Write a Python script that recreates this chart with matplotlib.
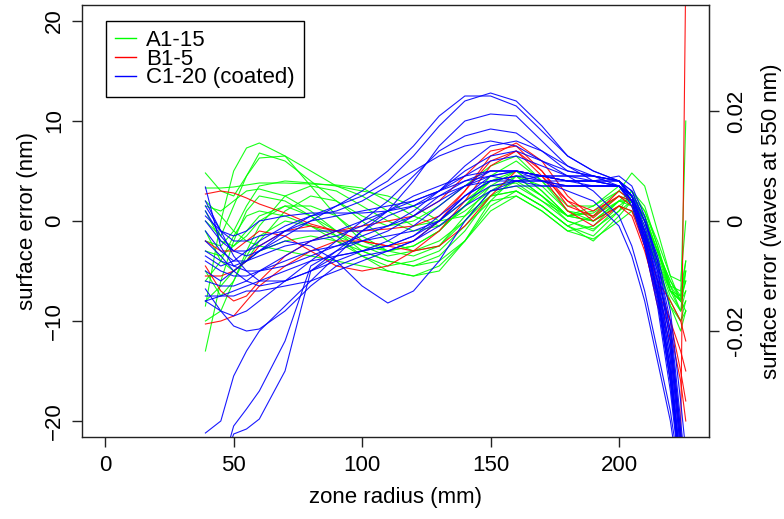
import matplotlib
matplotlib.use("Agg")
import matplotlib.pyplot as plt
from matplotlib.lines import Line2D
import numpy as np

plt.rcParams['font.family'] = ['Liberation Sans', 'DejaVu Sans']

# zone radius sample positions (mm)
zone_radius = [39, 45, 50, 55, 60, 70, 80, 90, 100, 110, 120, 130, 140, 150,
               160, 170, 180, 190, 200, 205, 210, 215, 220, 224, 226]

# A1-15 (green)
A1 = [-8.5, 0.0, 5.0, 7.3, 7.8, 6.5, 3.5, 0.5, -2.0, -3.0, -2.5, -1.0, 1.5, 3.5, 3.8, 2.0, 0.5, 0.8, 2.5, 1.5, -1.0, -4.0, -7.0, -8.0, -6.0]
A2 = [4.8, 3.0, 2.5, 4.5, 6.8, 6.0, 4.0, 2.0, 0.5, -0.5, 0.0, 1.5, 3.5, 5.5, 6.5, 4.0, 1.0, 0.5, 2.0, 2.0, 0.0, -3.0, -6.5, -8.0, -7.0]
A3 = [3.3, 3.3, 3.4, 3.6, 3.8, 3.8, 3.7, 3.6, 3.3, 2.0, 0.5, -0.5, 1.0, 3.0, 3.5, 2.0, 0.0, -0.8, 1.0, 3.0, 1.5, -2.5, -7.0, -9.0, -5.0]
A4 = [0.0, -1.5, 1.5, 4.5, 6.3, 6.5, 5.0, 3.5, 2.5, 1.0, -0.5, 0.0, 2.0, 4.0, 4.5, 2.5, 0.5, 1.0, 3.0, 4.8, 3.5, -1.0, -5.5, -8.0, -4.0]
A5 = [-2.0, -2.5, -1.0, 1.5, 3.5, 4.0, 3.8, 3.5, 3.0, 2.5, 1.5, 0.0, 0.5, 2.5, 3.0, 1.5, -0.5, -1.5, 1.0, 2.0, 0.5, -3.0, -7.0, -8.0, 10.0]
A6 = [-13.0, -6.0, -2.0, 1.0, 2.5, 2.0, 0.5, -1.0, -2.5, -3.5, -3.0, -2.0, 0.0, 2.5, 3.0, 1.5, -0.5, -2.0, 0.5, 2.0, 0.5, -3.0, -6.0, -7.5, -6.0]
A7 = [-6.0, -4.0, -1.5, 0.5, 1.0, 0.5, -0.5, -2.0, -3.5, -4.5, -4.0, -3.0, -0.5, 2.0, 2.5, 1.0, -1.0, -0.5, 2.0, 1.5, -1.0, -4.5, -8.0, -10.0, -8.0]
A8 = [1.0, -2.0, -2.5, -1.5, 0.0, 1.5, 1.5, 0.5, -1.5, -3.0, -3.5, -2.5, 0.5, 3.5, 5.0, 3.0, 0.5, 0.0, 2.0, 3.0, 1.0, -2.5, -6.5, -9.0, -8.0]
A9 = [-3.0, -3.5, -2.5, -1.0, 0.5, 1.5, 0.5, -1.5, -3.5, -5.0, -5.5, -4.5, -2.0, 1.5, 3.0, 1.5, -0.5, 0.5, 2.5, 2.0, 0.0, -3.5, -7.0, -7.5, -5.0]
A10 = [2.0, 0.5, -1.0, -2.0, -2.5, -3.0, -3.5, -4.0, -4.5, -5.0, -5.5, -5.0, -2.0, 2.0, 4.5, 3.5, 1.0, 0.0, 1.5, 1.0, -1.5, -4.5, -8.5, -10.0, -9.0]
A11 = [-8.0, -6.5, -5.0, -4.0, -3.0, -2.0, -1.5, -2.0, -3.0, -4.0, -4.5, -3.5, -1.0, 2.5, 4.0, 2.5, 0.0, -1.0, 1.5, 2.5, 1.0, -2.0, -5.5, -6.0, 0.0]
A12 = [-1.0, -4.0, -5.0, -4.0, -2.0, 1.0, 2.5, 2.0, 0.0, -2.0, -3.0, -2.5, 0.0, 3.0, 4.5, 2.5, 0.5, 1.5, 3.5, 2.5, 0.5, -3.0, -6.5, -7.0, -4.0]
A13 = [-5.0, -7.5, -6.0, -3.5, -1.5, 0.0, -0.5, -1.5, -2.5, -3.0, -2.5, -1.0, 1.5, 4.5, 6.0, 4.0, 1.5, 1.5, 3.0, 2.0, -0.5, -4.0, -7.5, -9.0, -7.0]
A14 = [1.5, 1.0, 2.0, 3.0, 3.2, 2.5, 1.0, -1.0, -3.0, -4.0, -4.5, -4.0, -2.0, 1.0, 2.5, 1.0, -1.0, -1.8, 0.0, 1.0, -1.0, -4.5, -8.5, -11.0, -9.0]
A15 = [-10.0, -9.0, -6.0, -3.0, -0.5, 2.5, 3.5, 3.0, 1.5, 0.0, -1.0, -0.5, 1.5, 4.0, 5.0, 3.0, 0.5, 0.0, 2.0, 2.0, 0.0, -3.0, -6.0, -8.0, -9.0]

# B1-5 (red)
B1 = [2.7, 3.0, 2.8, 2.3, 1.7, 0.8, -0.3, -1.0, -1.0, -0.8, -0.5, 0.5, 3.0, 6.5, 7.8, 6.0, 2.5, 0.3, 2.5, 1.5, -2.5, -8.5, -12.0, -22.0, 25.0]
B2 = [-5.5, -5.5, -5.0, -4.0, -2.5, -1.0, -0.5, -1.0, -2.0, -2.5, -2.0, 0.0, 3.0, 6.0, 7.0, 5.0, 2.0, 0.0, 1.5, 0.5, -3.0, -7.5, -11.0, -16.0, -20.0]
B3 = [-10.3, -10.0, -9.5, -8.0, -6.5, -4.5, -3.0, -2.0, -2.0, -2.5, -3.0, -2.5, -0.5, 2.5, 5.0, 4.5, 2.0, 1.0, 2.5, 2.0, -1.5, -6.0, -10.0, -15.0, -18.0]
B4 = [-2.0, -3.0, -3.0, -2.0, -1.0, -1.5, -3.0, -4.5, -5.0, -4.5, -3.0, -1.0, 2.0, 5.5, 7.0, 4.5, 1.0, -0.5, 1.5, 1.0, -2.5, -7.0, -10.0, -13.0, -15.0]
B5 = [-4.5, -7.0, -8.0, -7.5, -6.0, -3.5, -2.0, -1.0, -0.5, 0.0, 0.5, 2.0, 4.5, 7.0, 7.5, 5.0, 1.5, 0.5, 3.0, 2.0, -2.0, -6.0, -8.0, -10.0, -12.0]

# C1-20 coated (blue)
C1 = [0.0, -2.0, -3.0, -3.0, -2.5, -1.0, 0.5, 1.5, 2.5, 4.0, 6.5, 9.5, 12.0, 12.8, 12.0, 9.5, 6.5, 5.0, 4.0, 2.5, -1.0, -6.0, -14.0, -25.0, -30.0]
C2 = [-3.0, -4.0, -4.5, -4.0, -3.0, -1.5, 0.0, 1.5, 3.0, 5.0, 7.5, 10.5, 12.5, 12.5, 11.5, 9.0, 6.5, 5.0, 4.0, 2.0, -1.5, -7.0, -15.0, -26.0, -30.0]
C3 = [-21.2, -20.0, -15.5, -13.0, -11.0, -8.5, -6.0, -3.5, -1.0, 1.0, 4.0, 7.5, 10.0, 10.7, 10.5, 8.0, 5.5, 4.5, 3.5, 2.0, -2.0, -7.0, -15.0, -25.0, -30.0]
C4 = [-8.0, -9.0, -9.5, -9.0, -8.0, -6.0, -4.0, -2.0, 0.0, 2.0, 4.5, 7.0, 8.5, 9.2, 8.8, 7.0, 5.0, 4.5, 4.0, 2.5, -1.5, -6.5, -14.0, -24.0, -30.0]
C5 = [-30.0, -25.0, -20.5, -18.8, -17.0, -12.0, -4.5, -3.0, -2.0, -1.5, -1.0, 0.0, 2.5, 4.5, 5.0, 4.5, 4.0, 4.0, 4.0, 2.5, -1.0, -6.0, -13.0, -23.0, -30.0]
C6 = [-30.0, -25.0, -21.3, -20.8, -19.8, -15.0, -5.0, -3.5, -3.0, -2.5, -1.5, 0.5, 2.5, 4.0, 4.5, 4.5, 4.0, 3.5, 3.5, 2.0, -2.0, -7.5, -16.0, -25.0, -30.0]
C7 = [-6.8, -9.0, -10.5, -11.0, -10.8, -9.0, -6.5, -4.5, -3.5, -3.0, -2.0, 0.0, 2.5, 4.0, 4.5, 4.0, 3.5, 3.5, 3.5, 2.0, -2.5, -8.0, -16.0, -25.0, -30.0]
C8 = [1.0, -1.5, -3.0, -3.5, -3.0, -2.0, -2.5, -4.0, -6.5, -8.2, -7.0, -4.0, 0.0, 3.0, 4.0, 4.5, 4.5, 4.5, 4.0, 3.0, 0.0, -4.5, -12.0, -22.0, -28.0]
C9 = [3.4, -2.6, -4.5, -5.0, -5.0, -4.5, -3.5, -2.5, -1.5, -0.5, 0.5, 2.0, 3.5, 4.5, 5.0, 4.5, 4.0, 4.0, 4.5, 3.5, 0.5, -4.0, -11.0, -21.0, -26.0]
C10 = [2.0, -1.0, -2.0, -2.0, -1.5, -1.0, -1.0, -1.0, -1.0, -0.5, 1.0, 3.0, 5.5, 7.5, 8.0, 7.0, 5.5, 4.0, 3.5, 2.0, -2.0, -7.5, -16.0, -26.0, -30.0]
C11 = [-2.0, -3.5, -5.0, -6.0, -6.5, -6.0, -5.0, -4.0, -3.0, -2.0, -0.5, 1.5, 3.5, 5.0, 5.0, 4.5, 4.0, 4.0, 4.0, 2.5, -1.0, -5.5, -13.0, -23.0, -28.0]
C12 = [-4.0, -5.0, -5.5, -5.5, -5.0, -4.0, -3.0, -2.5, -2.0, -1.0, 0.5, 2.5, 4.0, 4.5, 4.0, 3.5, 3.5, 3.5, 3.5, 2.0, -2.0, -7.0, -15.0, -24.0, -29.0]
C13 = [-1.0, -3.0, -4.0, -4.0, -3.5, -2.5, -2.0, -1.5, -0.5, 1.0, 2.5, 3.5, 4.5, 5.0, 5.0, 4.5, 4.5, 4.5, 4.0, 3.0, 0.0, -4.0, -10.0, -20.0, -25.0]
C14 = [-7.5, -7.5, -7.0, -6.5, -6.0, -5.0, -4.0, -3.5, -3.0, -2.5, -1.5, 0.0, 2.0, 3.5, 4.0, 4.0, 3.5, 3.5, 3.5, 2.5, -1.0, -5.0, -12.0, -22.0, -27.0]
C15 = [-3.5, -4.5, -4.0, -3.0, -2.0, -0.5, 0.5, 1.0, 2.0, 3.5, 5.0, 6.5, 7.5, 8.0, 7.5, 6.0, 4.5, 3.0, 0.5, -2.5, -7.0, -13.0, -19.0, -26.0, -28.0]
C16 = [-6.0, -6.5, -6.5, -6.0, -5.0, -3.5, -2.0, -1.0, 0.0, 1.0, 2.0, 3.0, 4.0, 5.0, 5.0, 4.0, 3.0, 2.0, -0.5, -3.5, -8.0, -14.0, -20.0, -27.0, -30.0]
C17 = [0.5, -1.0, -1.5, -1.0, 0.0, 0.5, 0.8, 0.8, 0.8, 1.0, 1.5, 3.0, 5.0, 6.5, 7.0, 6.0, 5.0, 4.5, 4.0, 2.5, -1.5, -7.0, -15.0, -25.0, -30.0]
C18 = [-8.0, -7.5, -7.5, -7.0, -7.0, -6.5, -6.0, -5.0, -4.0, -3.0, -2.0, -0.5, 1.5, 3.0, 3.5, 3.5, 3.5, 3.5, 3.5, 2.5, -0.5, -5.0, -11.0, -21.0, -26.0]
C19 = [-5.0, -6.0, -5.0, -4.0, -3.0, -1.0, 0.0, 0.5, 1.0, 1.5, 2.0, 3.0, 4.5, 6.0, 6.5, 5.5, 4.5, 4.0, 3.5, 1.5, -2.5, -8.5, -17.0, -26.0, -30.0]
C20 = [1.5, -1.0, -3.5, -5.0, -6.0, -6.0, -5.0, -3.0, -1.0, 0.5, 1.5, 2.5, 3.5, 4.0, 4.0, 4.0, 4.0, 4.0, 3.5, 2.5, 0.0, -3.5, -9.0, -18.0, -23.0]

group_A = [A1, A2, A3, A4, A5, A6, A7, A8, A9, A10, A11, A12, A13, A14, A15]
group_B = [B1, B2, B3, B4, B5]
group_C = [C1, C2, C3, C4, C5, C6, C7, C8, C9, C10, C11, C12, C13, C14, C15,
           C16, C17, C18, C19, C20]

legend_labels = ["A1-15", "B1-5", "C1-20 (coated)"]
colors = ["#00ff00", "#ff0000", "#0000ff"]

W, H = 784, 519
fig = plt.figure(figsize=(W / 100, H / 100), dpi=100)
ax = fig.add_axes([82 / W, 1 - 437 / H, 627 / W, 432 / H])

for grp, col in zip([group_A, group_B, group_C], colors):
    for curve in grp:
        ax.plot(zone_radius, curve, color=col, lw=0.8, alpha=0.9,
                solid_joinstyle='round')

ax.set_xlim(-9.04, 235.04)
ax.set_ylim(-21.6, 21.6)
ax.set_xticks([0, 50, 100, 150, 200])
ax.set_yticks([-20, -10, 0, 10, 20])
for s in ax.spines.values():
    s.set_linewidth(1.0)
    s.set_color("#222222")
ax.tick_params(axis='both', labelsize=16, length=7, width=1, color="#222222",
               pad=5)
ax.tick_params(axis='x', pad=6)
for lab in ax.get_yticklabels():
    lab.set_rotation(90)
    lab.set_va('center')

sec = ax.secondary_yaxis('right', functions=(lambda y: y / 550.0,
                                             lambda w: w * 550.0))
sec.set_yticks([-0.02, 0, 0.02])
sec.set_yticklabels(["-0.02", "0", "0.02"])
sec.tick_params(labelsize=16, length=7, width=1, color="#222222", pad=5)
for lab in sec.get_yticklabels():
    lab.set_rotation(90)
    lab.set_va('center')
sec.spines['right'].set_color("#222222")

fig.text(395.5 / W, 1 - 498 / H, "zone radius (mm)", ha='center',
         va='center', fontsize=16)
fig.text(28 / W, 1 - 221 / H, "surface error (nm)", ha='center',
         va='center', rotation=90, fontsize=16)
fig.text(772 / W, 1 - 221 / H, "surface error (waves at 550 nm)",
         ha='center', va='center', rotation=90, fontsize=16)

handles = [Line2D([], [], color=c, lw=1.0) for c in colors]
leg = ax.legend(handles, legend_labels, loc='upper left',
                bbox_to_anchor=(24 / 627, 1 - 16 / 432), borderaxespad=0,
                fontsize=16, frameon=True, fancybox=False, framealpha=1,
                edgecolor='black', handlelength=0.95, handletextpad=0.45,
                labelspacing=-0.1, borderpad=0.4)
leg.get_frame().set_linewidth(1.0)

fig.savefig("out.png", dpi=100)
